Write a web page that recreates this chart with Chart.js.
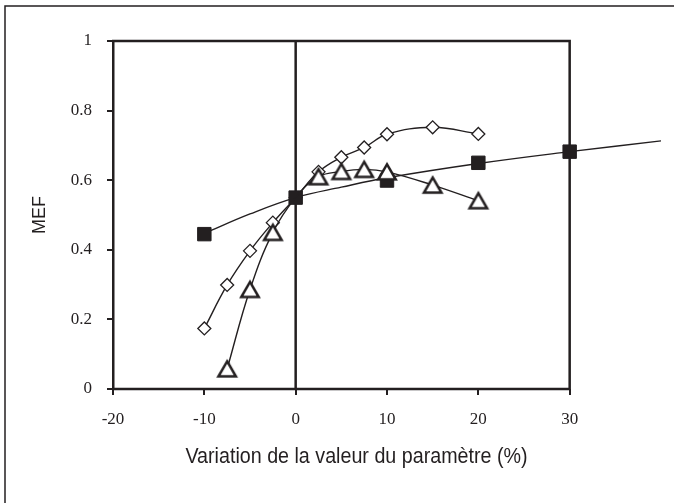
<!DOCTYPE html>
<html>
<head>
<meta charset="utf-8">
<script src="https://cdn.jsdelivr.net/npm/chart.js@4/dist/chart.umd.min.js"></script>
<style>
  html, body { margin: 0; padding: 0; background: #fff; }
  #wrap { position: relative; width: 674px; height: 503px; overflow: hidden; }
  canvas { display: block; }
</style>
</head>
<body>
<div id="wrap"><canvas id="c" width="674" height="503"></canvas></div>
<script>
// ---- data ----
const xTickLabels = ['-20', '-10', '0', '10', '20', '30'];
const yTickLabels = ['0', '0.2', '0.4', '0.6', '0.8', '1'];

const diamondX = [-10, -7.5, -5, -2.5, 0, 2.5, 5, 7.5, 10, 15, 20];
const diamondY = [0.174, 0.299, 0.397, 0.478, 0.55, 0.624, 0.666, 0.694, 0.732, 0.752, 0.733];

const triangleX = [-7.5, -5, -2.5, 0, 2.5, 5, 7.5, 10, 15, 20];
const triangleY = [0.058, 0.286, 0.45, 0.55, 0.61, 0.625, 0.631, 0.624, 0.586, 0.541];

const squareX = [-10, 0, 10, 20, 30];
const squareY = [0.445, 0.55, 0.599, 0.650, 0.682];

const trendX = [-10, -5, 0, 5, 10, 20, 30, 40];
const trendY = [0.447, 0.503, 0.55, 0.58, 0.607, 0.648, 0.682, 0.713];

const xTitle = 'Variation de la valeur du paramètre (%)';
const yTitle = 'MEF';

// ---- styling ----
const INK = '#231f20';
const AXIS_END = 30;   // last labelled value of the x axis (frame edge)
const pts = (xs, ys) => xs.map((x, i) => ({ x: x, y: ys[i] }));

// hollow triangle marker, centred on its bounding box
function makeTriangle() {
  const c = document.createElement('canvas');
  c.width = 24; c.height = 22;
  const g = c.getContext('2d');
  const w = 17.5, h = 15.2;
  const cx = 12, cy = 11;
  g.beginPath();
  g.moveTo(cx, cy - h / 2);
  g.lineTo(cx + w / 2, cy + h / 2);
  g.lineTo(cx - w / 2, cy + h / 2);
  g.closePath();
  g.fillStyle = '#fff';
  g.fill();
  g.lineWidth = 2.5;
  g.lineJoin = 'miter';
  g.strokeStyle = INK;
  g.stroke();
  return c;
}
const triImg = makeTriangle();

const framePlugin = {
  id: 'frame',
  beforeDraw(chart) {
    const ctx = chart.ctx;
    ctx.save();
    ctx.fillStyle = '#fff';
    ctx.fillRect(0, 0, chart.width, chart.height);
    ctx.strokeStyle = INK;
    ctx.lineWidth = 1.5;
    ctx.beginPath();
    ctx.moveTo(5, 1000);
    ctx.lineTo(5, 6);
    ctx.lineTo(1000, 6);
    ctx.stroke();
    ctx.restore();
  },
  beforeDatasetsDraw(chart) {
    const { ctx, chartArea: a, scales } = chart;
    const x0 = scales.x.getPixelForValue(0);
    const xe = scales.x.getPixelForValue(AXIS_END);
    ctx.save();
    ctx.strokeStyle = INK;
    ctx.lineWidth = 2.5;
    ctx.beginPath();
    ctx.moveTo(a.left - 1, a.top);
    ctx.lineTo(xe, a.top);
    ctx.lineTo(xe, a.bottom);
    ctx.lineTo(a.left - 1, a.bottom);
    ctx.moveTo(x0, a.top);
    ctx.lineTo(x0, a.bottom);
    ctx.stroke();
    ctx.restore();
  },
  afterDraw(chart) {
    const ctx = chart.ctx;
    ctx.save();
    ctx.fillStyle = INK;
    ctx.font = '22px "Liberation Sans", Arial, sans-serif';
    ctx.textAlign = 'center';
    ctx.textBaseline = 'alphabetic';
    ctx.translate(356.5, 462.5);
    ctx.scale(0.895, 1);
    ctx.fillText(xTitle, 0, 0);
    ctx.restore();
  }
};

new Chart(document.getElementById('c'), {
  type: 'line',
  data: {
    datasets: [
      {
        label: 'triangles',
        data: pts(triangleX, triangleY),
        borderColor: INK,
        borderWidth: 1.4,
        tension: 0.4,
        pointStyle: triImg,
        pointRadius: (c) => (c.raw && c.raw.x === 0 ? 0 : 9),
        pointHoverRadius: (c) => (c.raw && c.raw.x === 0 ? 0 : 9),
        clip: false,
        fill: false
      },
      {
        label: 'squares',
        data: pts(squareX, squareY),
        showLine: false,
        pointStyle: 'rect',
        pointRadius: 9.5,
        pointBackgroundColor: INK,
        pointBorderColor: INK,
        pointBorderWidth: 1,
        clip: false
      },
      {
        label: 'diamonds',
        data: pts(diamondX, diamondY),
        borderColor: INK,
        borderWidth: 1.4,
        tension: 0.4,
        pointStyle: 'rectRot',
        pointRadius: 6.5,
        pointBackgroundColor: '#fff',
        pointBorderColor: INK,
        pointBorderWidth: 1.3,
        clip: false,
        fill: false
      },
      {
        label: 'tendance',
        data: pts(trendX, trendY),
        borderColor: INK,
        borderWidth: 1.4,
        tension: 0.4,
        pointRadius: 0,
        clip: false,
        fill: false
      }
    ]
  },
  options: {
    responsive: false,
    animation: false,
    devicePixelRatio: 1,
    events: [],
    layout: { padding: { left: 0, top: 41, right: 13, bottom: 0 } },
    plugins: { legend: { display: false }, tooltip: { enabled: false } },
    scales: {
      x: {
        type: 'linear',
        min: -20, max: 40,
        afterFit: (s) => { s.height = 114; },
        afterBuildTicks: (s) => { s.ticks = xTickLabels.map((t) => ({ value: Number(t) })); },
        ticks: {
          callback: (v, i) => xTickLabels[i],
          color: INK,
          font: { family: '"Liberation Serif", "Times New Roman", serif', size: 17 },
          padding: 14,
          maxRotation: 0,
          autoSkip: false
        },
        grid: { drawOnChartArea: false, drawTicks: true, tickLength: 6, lineWidth: 2, color: INK },
        border: { display: false },
        title: { display: false, text: xTitle }
      },
      y: {
        min: 0, max: 1,
        afterFit: (s) => { s.width = 113; },
        afterBuildTicks: (s) => { s.ticks = yTickLabels.map((t) => ({ value: Number(t) })); },
        ticks: {
          callback: (v, i) => yTickLabels[i],
          color: INK,
          font: { family: '"Liberation Serif", "Times New Roman", serif', size: 17 },
          padding: 15,
          autoSkip: false
        },
        grid: { drawOnChartArea: false, drawTicks: true, tickLength: 6, lineWidth: 2, color: INK },
        border: { display: true, color: INK, width: 2.5 },
        title: {
          display: true,
          text: yTitle,
          color: INK,
          font: { family: '"Liberation Sans", Arial, sans-serif', size: 18 },
          padding: { top: 29, bottom: 0 }
        }
      }
    }
  },
  plugins: [framePlugin]
});
</script>
</body>
</html>
